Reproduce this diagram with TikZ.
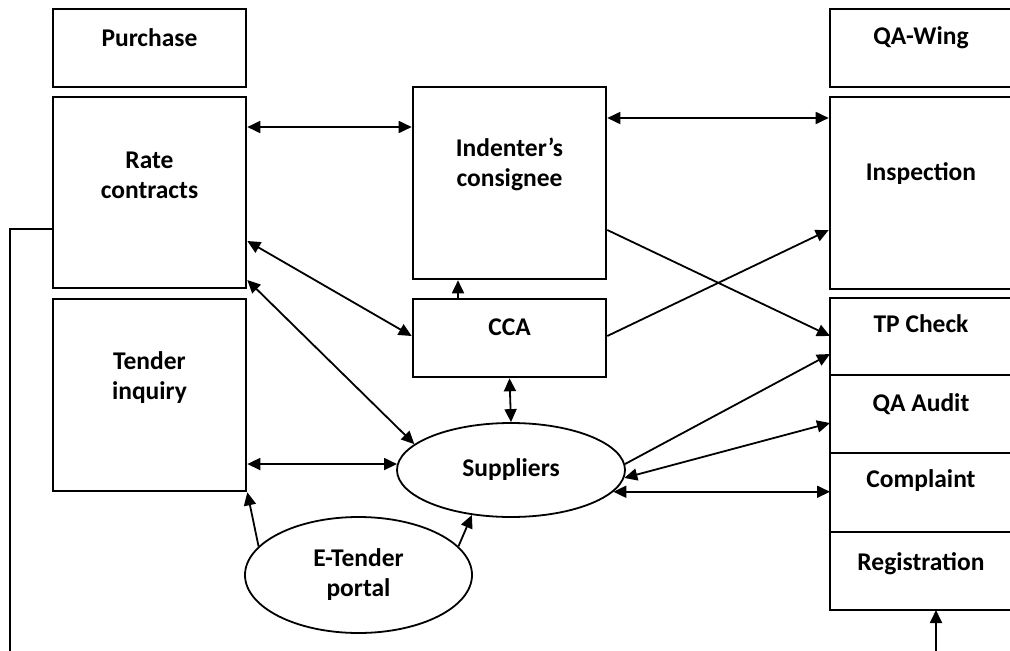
\documentclass[tikz,border=0pt]{standalone}
\usepackage{fontspec}
\setmainfont{Carlito}
\usetikzlibrary{arrows.meta, shapes.geometric}

\tikzset{
  box/.style = {draw, line width=2.6pt, minimum width=193pt, inner sep=0pt},
  cell/.style = {draw, line width=1.6pt, minimum width=182pt, minimum height=78pt, inner sep=0pt, outer sep=0pt},
  blob/.style = {draw, ellipse, line width=1.8pt, inner sep=0pt, align=center, font=\bfseries\fontsize{25.5}{30}\selectfont},
  lbl/.style = {font=\bfseries\fontsize{25.5}{30}\selectfont, align=center, inner sep=0pt},
  link/.style = {line width=1.8pt, -{Triangle[length=13pt, width=12pt]}},
  dlink/.style = {link, {Triangle[length=13pt, width=12pt]}-{Triangle[length=13pt, width=12pt]}},
}

\begin{document}
\begin{tikzpicture}[x=1pt, y=-1pt]
  \useasboundingbox (0,0) rectangle (1010,651);

  % left column
  \node (purchase) [box, minimum height=78pt] at (149.5,48) {};
  \node (rate) [box, minimum height=191pt] at (149.5,192.5) {};
  \node (ti) [box, minimum height=192pt] at (149.5,395) {};

  % middle
  \node (ind) [box, minimum height=192pt] at (509.5,183) {};
  \node (cca) [box, minimum height=78pt] at (509.5,338) {};
  \node (sup) [blob, minimum width=228pt, minimum height=94pt] at (511,470) {Suppliers};
  \node (et) [blob, minimum width=227pt, minimum height=116pt] at (358.5,575) {E-Tender\\portal};

  % right column
  \node (qaw) [box, minimum width=182pt, minimum height=78pt] at (921,48) {};
  \node (insp) [box, minimum width=182pt, minimum height=192pt] at (921,193) {};
  \node (tp) [cell, minimum height=77pt] at (921,336.5) {};
  \node (qa) [cell] at (921,414) {};
  \node (comp) [cell, minimum height=79pt] at (921,492.5) {};
  \node (reg) [cell] at (921,571) {};
  \draw [line width=2.6pt] (tp.north west) rectangle (reg.south east);

  % texts
  \node (purchase-l) [lbl] at (149.5,38) {Purchase};
  \node (rate-l) [lbl] at (149.5,175) {Rate\\contracts};
  \node (ti-l) [lbl] at (149.5,378) {Tender\\inquiry};
  \node (ind-l) [lbl] at (509.5,164) {Indenter’s\\consignee};
  \node (cca-l) [lbl] at (509.5,327) {CCA};
  \node (qaw-l) [lbl] at (921,38) {QA-Wing};
  \node (insp-l) [lbl] at (921,174) {Inspection};
  \node (tp-l) [lbl] at (921,324) {TP Check};
  \node (qa-l) [lbl] at (921,404) {QA Audit};
  \node (comp-l) [lbl] at (921,481) {Complaint};
  \node (reg-l) [lbl] at (921,564) {Registration};

  % connectors
  \draw [dlink] (rate.east |- 0,127) -- (ind.west |- 0,127);
  \draw [dlink] (ind.east |- 0,118) -- (insp.west |- 0,118);
  \draw [dlink] (rate.east |- 0,241) -- (cca.west |- 0,336);
  \draw [dlink] (rate.east |- 0,280) -- (sup.165);
  \draw [dlink] (ti.east |- sup.177) -- (sup.177);
  \draw [dlink] (cca.south) -- (sup.north);
  \draw [link] (cca.north -| 458,0) -- (ind.south -| 458,0);
  \draw [link] (ind.east |- 0,230) -- (tp.west |- 0,336);
  \draw [link] (cca.east |- 0,336) -- (insp.west |- 0,230);
  \draw [link] (sup.3) -- (tp.west |- 0,354);
  \draw [dlink] (sup.-4) -- (qa.west |- 0,423);
  \draw [dlink] (sup.-12) -- (sup.-12 -| comp.west);
  \draw [link] (et.164) -- (ti.south east);
  \draw [link] (et.16) -- (sup.229);

  % lines leaving the page
  \coordinate (lo) at (10,655);
  \coordinate (ro) at (936,655);
  \draw [line width=1.8pt] (rate.west |- 0,229) -| (lo);
  \draw [link] (ro) -- (reg.south -| ro);
\end{tikzpicture}
\end{document}
